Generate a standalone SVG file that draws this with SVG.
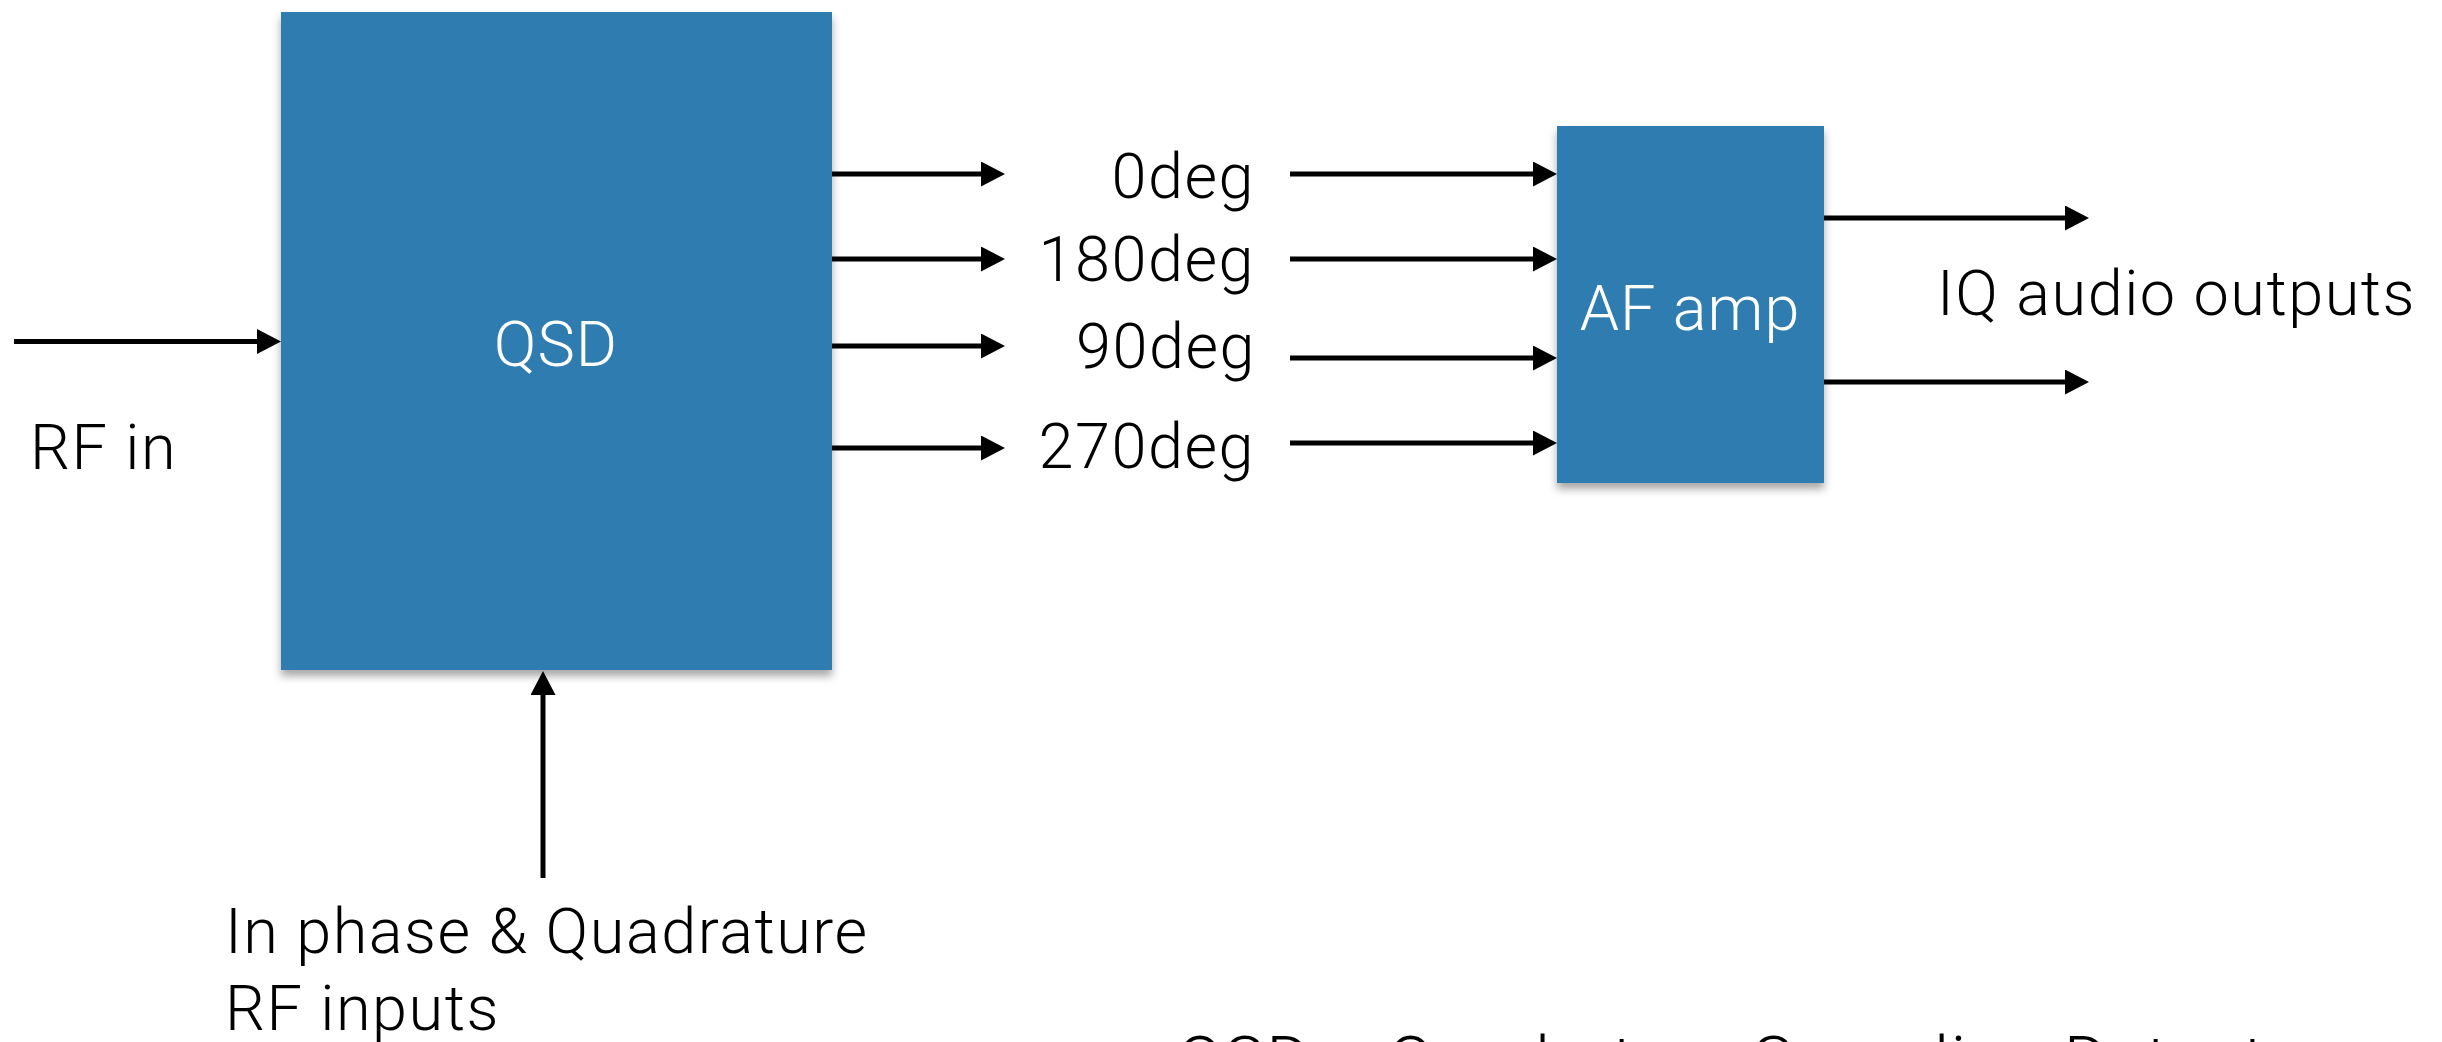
<svg xmlns="http://www.w3.org/2000/svg" width="2442" height="1042" viewBox="0 0 2442 1042">
<style>
.lbl{font-family:Roboto,"Liberation Sans",sans-serif;font-weight:300;font-size:63px;letter-spacing:1.5px;fill:#000}
.wlbl{font-family:Roboto,"Liberation Sans",sans-serif;font-weight:300;font-size:63px;letter-spacing:1px;fill:#fff}
.box{fill:#2f7cb0}
.con{stroke:#000;stroke-width:5;fill:none}
</style>
<defs>
<marker id="ah" markerUnits="userSpaceOnUse" markerWidth="24" markerHeight="25" refX="14" refY="12.5" orient="auto">
<path d="M0,0 L24,12.5 L0,25 Z" fill="#000"/>
</marker>
<filter id="sh" x="-10%" y="-10%" width="120%" height="120%">
<feDropShadow dx="0" dy="6" stdDeviation="4" flood-color="#000" flood-opacity="0.35"/>
</filter>
</defs>
<rect width="2442" height="1042" fill="#fff"/>
<g id="node-qsd">
<rect class="box" x="281" y="12" width="551" height="658" filter="url(#sh)"/>
<text class="wlbl" x="556" y="366" text-anchor="middle">QSD</text>
</g>
<g id="node-afamp">
<rect class="box" x="1557" y="126" width="267" height="357" filter="url(#sh)"/>
<text class="wlbl" x="1690" y="330" text-anchor="middle">AF amp</text>
</g>
<g id="connectors">
<line class="con" x1="14" y1="341.5" x2="271" y2="341.5" marker-end="url(#ah)"/>
<line class="con" x1="832" y1="174" x2="995" y2="174" marker-end="url(#ah)"/>
<line class="con" x1="832" y1="259" x2="995" y2="259" marker-end="url(#ah)"/>
<line class="con" x1="832" y1="346" x2="995" y2="346" marker-end="url(#ah)"/>
<line class="con" x1="832" y1="448" x2="995" y2="448" marker-end="url(#ah)"/>
<line class="con" x1="1290" y1="174" x2="1547" y2="174" marker-end="url(#ah)"/>
<line class="con" x1="1290" y1="259" x2="1547" y2="259" marker-end="url(#ah)"/>
<line class="con" x1="1290" y1="358" x2="1547" y2="358" marker-end="url(#ah)"/>
<line class="con" x1="1290" y1="443" x2="1547" y2="443" marker-end="url(#ah)"/>
<line class="con" x1="1824" y1="218" x2="2079" y2="218" marker-end="url(#ah)"/>
<line class="con" x1="1824" y1="382" x2="2079" y2="382" marker-end="url(#ah)"/>
<line class="con" x1="543" y1="878" x2="543" y2="681" marker-end="url(#ah)"/>
</g>
<g id="labels">
<text class="lbl" x="30" y="469">RF in</text>
<text class="lbl" x="1255" y="198" text-anchor="end">0deg</text>
<text class="lbl" x="1255" y="281" text-anchor="end">180deg</text>
<text class="lbl" x="1256" y="368" text-anchor="end">90deg</text>
<text class="lbl" x="1255" y="468" text-anchor="end">270deg</text>
<text class="lbl" x="1937" y="315">IQ audio outputs</text>
<text class="lbl" x="225" y="953">In phase &amp; Quadrature</text>
<text class="lbl" x="225" y="1030">RF inputs</text>
<text class="lbl" x="1177" y="1085" style="font-size:68px">QSD = Quadrature Sampling Detector</text>
</g>
</svg>
